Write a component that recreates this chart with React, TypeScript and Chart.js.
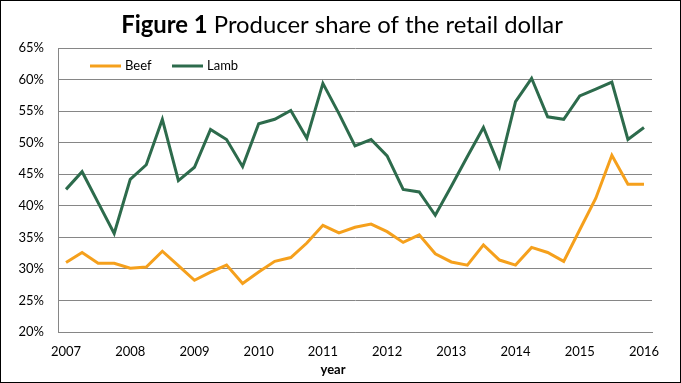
import React, { useEffect, useRef } from "react";
import { Chart, registerables } from "chart.js";

Chart.register(...registerables);

const years = ["2007", "2008", "2009", "2010", "2011", "2012", "2013", "2014", "2015", "2016"];

// quarterly labels: year on Q1, blank otherwise
const quarterLabels: string[] = [];
years.forEach((y, i) => {
  quarterLabels.push(y);
  if (i < years.length - 1) quarterLabels.push("", "", "");
});

const beefShare = [
  31.0, 32.6, 30.9, 30.9, 30.1, 30.3, 32.8, 30.5, 28.2, 29.5,
  30.6, 27.7, 29.5, 31.2, 31.8, 34.1, 36.9, 35.7, 36.6, 37.1,
  35.9, 34.2, 35.4, 32.4, 31.1, 30.6, 33.8, 31.4, 30.6, 33.4,
  32.6, 31.2, 36.2, 41.2, 48.0, 43.4, 43.4,
];

const lambShare = [
  42.6, 45.4, 40.5, 35.6, 44.2, 46.5, 53.7, 44.0, 46.1, 52.1,
  50.5, 46.2, 53.0, 53.7, 55.1, 50.7, 59.4, 54.6, 49.5, 50.5,
  47.9, 42.6, 42.2, 38.5, 43.1, 47.8, 52.4, 46.2, 56.5, 60.2,
  54.1, 53.7, 57.4, 58.5, 59.6, 50.5, 52.4,
];

const yMin = 20;
const yMax = 65;
const yStep = 5;

const titleBold = "Figure 1";
const titleRest = " Producer share of the retail dollar";
const xAxisTitle = "year";
const seriesNames = ["Beef", "Lamb"];
const seriesColors = ["#F5A01C", "#2D6B4C"];

const FONT = "Lato, 'Open Sans', sans-serif";

const overlayPlugin = {
  id: "overlay",
  afterDraw(chart: any) {
    const ctx = chart.ctx as CanvasRenderingContext2D;
    const W = chart.width;
    const H = chart.height;
    ctx.save();
    // outer frame
    ctx.strokeStyle = "#000";
    ctx.lineWidth = 1;
    ctx.strokeRect(0.5, 0.5, W - 1, H - 1);

    // title (mixed bold/normal)
    let size = 21;
    ctx.font = `bold ${size}px ${FONT}`;
    let wb = ctx.measureText(titleBold).width;
    ctx.font = `${size}px ${FONT}`;
    let wr = ctx.measureText(titleRest).width;
    const target = 442;
    size = size * target / (wb + wr);
    ctx.font = `bold ${size}px ${FONT}`;
    wb = ctx.measureText(titleBold).width;
    ctx.font = `${size}px ${FONT}`;
    wr = ctx.measureText(titleRest).width;
    const tx = 342 - (wb + wr) / 2;
    ctx.fillStyle = "#000";
    ctx.textBaseline = "middle";
    ctx.textAlign = "left";
    ctx.font = `bold ${size}px ${FONT}`;
    ctx.fillText(titleBold, tx, 25);
    ctx.font = `${size}px ${FONT}`;
    ctx.fillText(titleRest, tx + wb, 25);

    // legend inside plot
    const legendY = 66;
    const items = [
      { x: 90, name: seriesNames[0], color: seriesColors[0] },
      { x: 172, name: seriesNames[1], color: seriesColors[1] },
    ];
    ctx.font = `13px ${FONT}`;
    items.forEach((it) => {
      ctx.strokeStyle = it.color;
      ctx.lineWidth = 3;
      ctx.beginPath();
      ctx.moveTo(it.x, legendY);
      ctx.lineTo(it.x + 31, legendY);
      ctx.stroke();
      ctx.fillStyle = "#000";
      ctx.fillText(it.name, it.x + 35, legendY);
    });

    // x axis title
    ctx.font = `bold 13px ${FONT}`;
    ctx.textAlign = "center";
    ctx.fillText(xAxisTitle, 333, 370);
    ctx.restore();
  },
};

export default function App() {
  const ref = useRef<HTMLCanvasElement | null>(null);

  useEffect(() => {
    document.body.style.margin = "0";
    const canvas = ref.current;
    if (!canvas) return;
    const chart = new Chart(canvas, {
      type: "line",
      data: {
        labels: quarterLabels,
        datasets: seriesNames.map((name, i) => ({
          label: name,
          data: i === 0 ? beefShare : lambShare,
          borderColor: seriesColors[i],
          backgroundColor: seriesColors[i],
          borderWidth: 3,
          pointRadius: 0,
          tension: 0,
          fill: false,
        })),
      },
      options: {
        animation: false,
        responsive: false,
        maintainAspectRatio: false,
        layout: { padding: { top: 48, right: 29, left: 0, bottom: 0 } },
        plugins: {
          legend: { display: false },
          title: { display: false },
          tooltip: { enabled: false },
        },
        scales: {
          x: {
            type: "category",
            offset: true,
            grid: { display: false, drawTicks: false },
            border: { display: true, color: "#868686", width: 1 },
            ticks: {
              autoSkip: false,
              maxRotation: 0,
              minRotation: 0,
              padding: 12,
              color: "#000",
              font: { family: FONT, size: 13 },
            },
            afterFit(scale: any) {
              scale.height = 383 - 332;
            },
          },
          y: {
            min: yMin,
            max: yMax,
            grid: { color: "#868686", lineWidth: 1, drawTicks: false },
            border: { display: true, color: "#868686", width: 1 },
            ticks: {
              stepSize: yStep,
              padding: 14,
              color: "#000",
              font: { family: FONT, size: 13 },
              callback: (v: any) => `${v}%`,
            },
            afterFit(scale: any) {
              scale.width = 58;
            },
          },
        },
      },
      plugins: [overlayPlugin],
    });
    return () => chart.destroy();
  }, []);

  return (
    <div style={{ width: 681, height: 383 }}>
      <canvas ref={ref} width={681} height={383} style={{ display: "block" }} />
    </div>
  );
}
